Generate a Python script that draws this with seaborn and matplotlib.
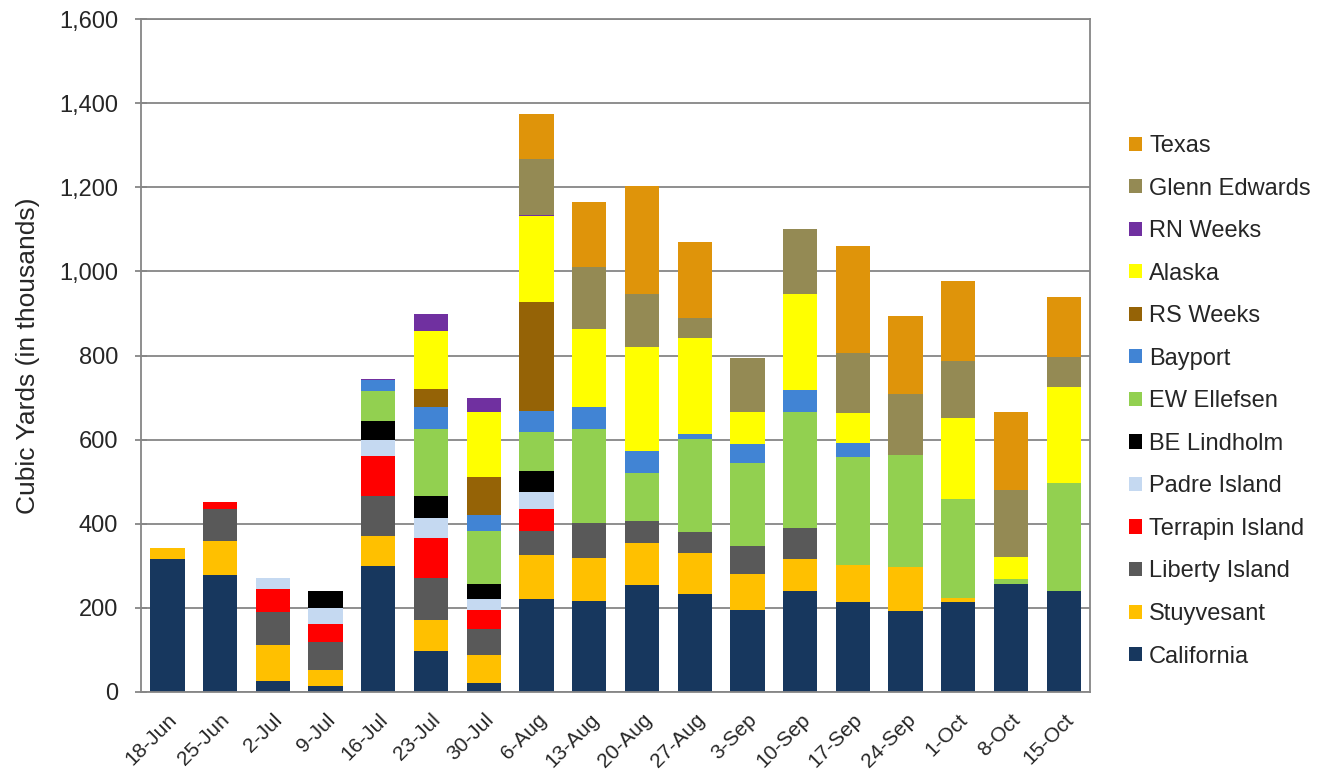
import numpy as np
import pandas as pd
import matplotlib.pyplot as plt
import seaborn as sns
from matplotlib.patches import Patch
from matplotlib.ticker import FuncFormatter

# week labels
weeks = ["18-Jun", "25-Jun", "2-Jul", "9-Jul", "16-Jul", "23-Jul", "30-Jul", "6-Aug", "13-Aug",
         "20-Aug", "27-Aug", "3-Sep", "10-Sep", "17-Sep", "24-Sep", "1-Oct", "8-Oct", "15-Oct"]

# dredge volumes per week (thousands of cubic yards), bottom of stack first
california = [316, 277, 25, 15, 300, 98, 21, 221, 217, 255, 232, 195, 241, 213, 193, 215, 256, 241]
stuyvesant = [26, 81, 87, 38, 72, 73, 66, 105, 102, 100, 98, 85, 76, 88, 103, 8, 0, 0]
liberty_island = [0, 76, 78, 67, 93, 101, 62, 56, 83, 52, 51, 68, 72, 0, 0, 0, 0, 0]
terrapin_island = [0, 18, 54, 41, 96, 95, 47, 54, 0, 0, 0, 0, 0, 0, 0, 0, 0, 0]
padre_island = [0, 0, 27, 38, 37, 46, 26, 40, 0, 0, 0, 0, 0, 0, 0, 0, 0, 0]
be_lindholm = [0, 0, 0, 42, 46, 53, 34, 49, 0, 0, 0, 0, 0, 0, 0, 0, 0, 0]
ew_ellefsen = [0, 0, 0, 0, 72, 159, 127, 92, 223, 113, 220, 196, 277, 258, 268, 237, 13, 256]
bayport = [0, 0, 0, 0, 26, 52, 37, 52, 52, 54, 12, 46, 52, 34, 0, 0, 0, 0]
rs_weeks = [0, 0, 0, 0, 0, 43, 91, 258, 0, 0, 0, 0, 0, 0, 0, 0, 0, 0]
alaska = [0, 0, 0, 0, 0, 139, 155, 204, 186, 247, 228, 76, 228, 71, 0, 192, 53, 229]
rn_weeks = [0, 0, 0, 0, 2, 40, 34, 3, 0, 0, 0, 0, 0, 0, 0, 0, 0, 0]
glenn_edwards = [0, 0, 0, 0, 0, 0, 0, 134, 147, 126, 48, 128, 154, 141, 144, 134, 158, 70]
texas = [0, 0, 0, 0, 0, 0, 0, 105, 156, 256, 181, 0, 0, 255, 186, 191, 185, 144]

series = [
    ("California", california, "#17375E"),
    ("Stuyvesant", stuyvesant, "#FFC000"),
    ("Liberty Island", liberty_island, "#595959"),
    ("Terrapin Island", terrapin_island, "#FF0000"),
    ("Padre Island", padre_island, "#C5D9F1"),
    ("BE Lindholm", be_lindholm, "#000000"),
    ("EW Ellefsen", ew_ellefsen, "#92D050"),
    ("Bayport", bayport, "#4184D4"),
    ("RS Weeks", rs_weeks, "#956306"),
    ("Alaska", alaska, "#FFFF00"),
    ("RN Weeks", rn_weeks, "#7030A0"),
    ("Glenn Edwards", glenn_edwards, "#948A54"),
    ("Texas", texas, "#DF940A"),
]

sns.set_style("white")
plt.rcParams['font.family'] = ['Liberation Sans', 'DejaVu Sans']

fig = plt.figure(figsize=(13.23, 7.73), dpi=100)
ax = fig.add_axes([0.1066, 0.1048, 0.7174, 0.8706])

# gridlines behind bars
ax.set_axisbelow(True)
ax.yaxis.grid(True, color="#868686", linewidth=1.3)

# stacked bars: draw running totals from the top series down
cum = np.cumsum(np.array([s[1] for s in series]), axis=0)
for i in range(len(series) - 1, -1, -1):
    df = pd.DataFrame({"week": weeks, "value": cum[i]})
    sns.barplot(data=df, x="week", y="value", order=weeks, color=series[i][2],
                saturation=1, width=0.65, linewidth=0, ax=ax)

ax.set_ylim(0, 1600)
ax.set_yticks(range(0, 1601, 200))
ax.yaxis.set_major_formatter(FuncFormatter(lambda v, p: f"{int(v):,}"))
ax.set_xlim(-0.5, len(weeks) - 0.5)
ax.set_xlabel("")
ax.set_ylabel("Cubic Yards (in thousands)", fontsize=19, labelpad=14)

ax.tick_params(axis="y", labelsize=17, length=9, direction="inout", color="#868686",
               width=1.3, pad=12, left=True)
ax.tick_params(axis="x", labelsize=15, length=0, pad=13)
plt.setp(ax.get_xticklabels(), rotation=45, ha="right", rotation_mode="anchor")

for side in ["left", "right", "top", "bottom"]:
    ax.spines[side].set_visible(True)
    ax.spines[side].set_color("#868686")
    ax.spines[side].set_linewidth(1.3)

handles = [Patch(facecolor=c, edgecolor="none", label=n) for n, _, c in reversed(series)]
ax.legend(handles=handles, loc="center left", bbox_to_anchor=(1.041, 0.432), frameon=False,
          fontsize=17, handlelength=0.55, handleheight=0.55, handletextpad=0.3,
          labelspacing=0.87, borderpad=0, borderaxespad=0)

fig.savefig("out.png", dpi=100)
